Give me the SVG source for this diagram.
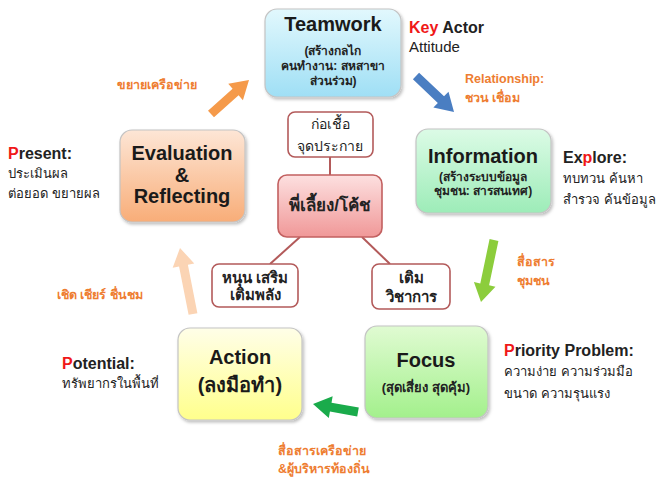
<svg xmlns="http://www.w3.org/2000/svg" width="662" height="480" viewBox="0 0 662 480">
<defs>
<linearGradient id="gCyan" x1="0" y1="0" x2="0" y2="1"><stop offset="0" stop-color="#e2f8fd"/><stop offset="1" stop-color="#9fdff5"/></linearGradient>
<linearGradient id="gMint" x1="0" y1="0" x2="0" y2="1"><stop offset="0" stop-color="#dcfbe6"/><stop offset="1" stop-color="#9decb8"/></linearGradient>
<linearGradient id="gLime" x1="0" y1="0" x2="0" y2="1"><stop offset="0" stop-color="#e0fbd2"/><stop offset="1" stop-color="#a3f08c"/></linearGradient>
<linearGradient id="gYellow" x1="0" y1="0" x2="0" y2="1"><stop offset="0" stop-color="#fffee8"/><stop offset="1" stop-color="#ffff8c"/></linearGradient>
<linearGradient id="gPeach" x1="0" y1="0" x2="0" y2="1"><stop offset="0" stop-color="#fde6d6"/><stop offset="1" stop-color="#f8ad78"/></linearGradient>
<linearGradient id="gPink" x1="0" y1="0" x2="0" y2="1"><stop offset="0" stop-color="#fde0e0"/><stop offset="1" stop-color="#f09898"/></linearGradient>
<filter id="sh" x="-10%" y="-10%" width="125%" height="125%"><feDropShadow dx="1.5" dy="2" stdDeviation="1.5" flood-color="#000" flood-opacity="0.25"/></filter>
</defs>
<style>
text{font-family:"Liberation Sans","Noto Sans",sans-serif;}
.box{stroke:#c4c4c4;stroke-width:1.2;filter:url(#sh);}
.cbox{fill:#fff;stroke:#b35a5a;stroke-width:1.6;}
.title{font-size:20px;font-weight:bold;fill:#1a1a1a;text-anchor:middle;}
.sub{font-size:12px;font-weight:bold;fill:#222;text-anchor:middle;}
.side{font-size:13px;fill:#222;}
.sideb{font-size:16px;font-weight:bold;fill:#222;}
.red{fill:#f01818;}
.lab{font-size:12.5px;font-weight:bold;fill:#ee7d31;}
.ctext{font-size:15px;font-weight:bold;fill:#222;text-anchor:middle;}
.conn{stroke:#b35a5a;stroke-width:2;}
</style>
<g id="connectors">
<line class="conn" x1="330" y1="157" x2="330" y2="175"/>
<line class="conn" x1="300" y1="237" x2="270" y2="264"/>
<line class="conn" x1="362" y1="237" x2="390" y2="264"/>
<polygon fill="#4a7ec2" points="412.9,79.27 437.83,102.89 433.36,107.61 454,112 448.5,91.63 444.03,96.35 419.1,72.73"/>
<polygon fill="#f59a4a" points="214,117.35 238.59,95.35 242.93,100.2 249,80 228.25,83.8 232.59,88.65 208,110.65"/>
<polygon fill="#8ccd3c" points="489.59,239.08 480.28,283.46 473.92,282.12 481,302 495.46,286.64 489.1,285.3 498.41,240.92"/>
<polygon fill="#1aab4b" points="358.79,407.57 331.52,402.72 332.66,396.31 313,404 328.8,417.99 329.94,411.58 357.21,416.43"/>
<polygon fill="#fbd4b4" points="197.41,313.13 187.88,264.79 194.26,263.54 180,248 172.68,267.78 179.06,266.53 188.59,314.87"/>
</g>
<g id="teamwork">
<rect class="box" x="265" y="9" width="136" height="88" rx="12" fill="url(#gCyan)"/>
<text class="title" x="333" y="31">Teamwork</text>
<text class="sub" x="333" y="55">(สร้างกลไก</text>
<text class="sub" x="333" y="70">คนทำงาน: สหสาขา</text>
<text class="sub" x="333" y="85">ส่วนร่วม)</text>
</g>
<g id="key-actor">
<text class="sideb" x="409" y="33"><tspan class="red">Key</tspan> Actor</text>
<text class="side" x="409" y="52" style="font-size:15px">Attitude</text>
</g>
<g id="relationship">
<text class="lab" x="465" y="83">Relationship:</text>
<text class="lab" x="465" y="102">ชวน เชื่อม</text>
</g>
<g id="information">
<rect class="box" x="416" y="129" width="135" height="84" rx="12" fill="url(#gMint)"/>
<text class="title" x="483" y="163">Information</text>
<text class="sub" x="483" y="181">(สร้างระบบข้อมูล</text>
<text class="sub" x="483" y="195">ชุมชน: สารสนเทศ)</text>
</g>
<g id="explore">
<text class="sideb" x="563" y="163">Ex<tspan class="red">p</tspan>lore:</text>
<text class="side" x="563" y="183">ทบทวน ค้นหา</text>
<text class="side" x="563" y="204">สำรวจ ค้นข้อมูล</text>
</g>
<g id="label-community">
<text class="lab" x="517" y="266">สื่อสาร</text>
<text class="lab" x="517" y="285">ชุมชน</text>
</g>
<g id="focus">
<rect class="box" x="365" y="326" width="123" height="92" rx="12" fill="url(#gLime)"/>
<text class="title" x="426" y="367">Focus</text>
<text class="sub" x="426" y="392" style="font-size:13px">(สุดเสี่ยง สุดคุ้ม)</text>
</g>
<g id="priority">
<text class="sideb" x="504" y="356"><tspan class="red">P</tspan>riority Problem:</text>
<text class="side" x="504" y="376">ความง่าย  ความร่วมมือ</text>
<text class="side" x="504" y="398">ขนาด ความรุนแรง</text>
</g>
<g id="label-network">
<text class="lab" x="278" y="455">สื่อสารเครือข่าย</text>
<text class="lab" x="278" y="473">&amp;ผู้บริหารท้องถิ่น</text>
</g>
<g id="action">
<rect class="box" x="178" y="328" width="124" height="92" rx="12" fill="url(#gYellow)"/>
<text class="title" x="240" y="364">Action</text>
<text class="title" x="240" y="392">(ลงมือทำ)</text>
</g>
<g id="potential">
<text class="sideb" x="62" y="369"><tspan class="red">P</tspan>otential:</text>
<text class="side" x="62" y="388">ทรัพยากรในพื้นที่</text>
</g>
<g id="label-cheer">
<text class="lab" x="57" y="299">เชิด เชียร์ ชื่นชม</text>
</g>
<g id="evaluation">
<rect class="box" x="120" y="130" width="125" height="92" rx="12" fill="url(#gPeach)"/>
<text class="title" x="182" y="160">Evaluation</text>
<text class="title" x="182" y="182">&amp;</text>
<text class="title" x="182" y="203">Reflecting</text>
</g>
<g id="present">
<text class="sideb" x="8" y="159"><tspan class="red">P</tspan>resent:</text>
<text class="side" x="8" y="178">ประเมินผล</text>
<text class="side" x="8" y="198">ต่อยอด ขยายผล</text>
</g>
<g id="label-expand">
<text class="lab" x="117" y="89">ขยายเครือข่าย</text>
</g>
<g id="spark">
<rect class="cbox" x="288" y="112" width="85" height="45" rx="7"/>
<text class="ctext" x="330" y="129" style="font-weight:normal;font-size:14px">ก่อเชื้อ</text>
<text class="ctext" x="330" y="151" style="font-weight:normal;font-size:14px">จุดประกาย</text>
</g>
<g id="coach">
<rect x="278" y="175" width="104" height="62" rx="9" fill="url(#gPink)" stroke="#c26060" stroke-width="1.6"/>
<text class="ctext" x="330" y="211" style="font-size:17px">พี่เลี้ยง/โค้ช</text>
</g>
<g id="empower">
<rect class="cbox" x="212" y="264" width="86" height="43" rx="7"/>
<text class="ctext" x="255" y="283">หนุน เสริม</text>
<text class="ctext" x="255" y="300">เติมพลัง</text>
</g>
<g id="academic">
<rect class="cbox" x="372" y="264" width="78" height="45" rx="7"/>
<text class="ctext" x="411" y="283">เติม</text>
<text class="ctext" x="411" y="302">วิชาการ</text>
</g>
</svg>
